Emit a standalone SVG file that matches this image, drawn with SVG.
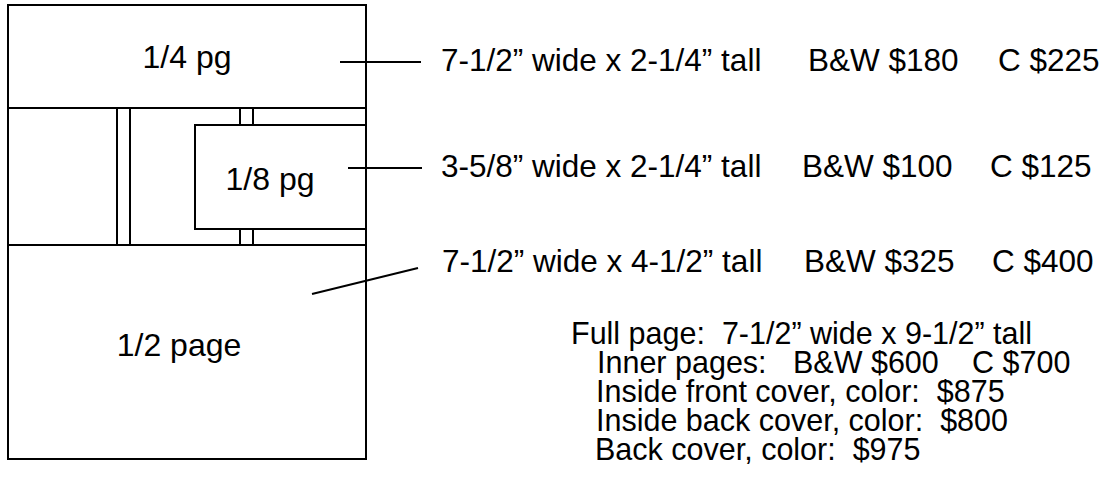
<svg xmlns="http://www.w3.org/2000/svg" width="1104" height="488" viewBox="0 0 1104 488">
<style>
.box{fill:#fff;stroke:#000;stroke-width:2}
.ln{stroke:#000;stroke-width:2;fill:none}
text{font-family:"Liberation Sans",Arial,sans-serif;fill:#000;white-space:pre}
.lab{font-size:32px;text-anchor:middle}
.row{font-size:31.5px}
.blk{font-size:30.5px}
</style>
<rect width="1104" height="488" fill="#fff"/>
<g id="page">
<rect class="box" x="8" y="5" width="358" height="454"/>
<line class="ln" x1="117" y1="108" x2="117" y2="245"/>
<line class="ln" x1="130" y1="108" x2="130" y2="245"/>
<line class="ln" x1="240" y1="108" x2="240" y2="245"/>
<line class="ln" x1="253" y1="108" x2="253" y2="245"/>
</g>
<g id="quarter">
<rect class="box" x="8" y="5" width="358" height="103"/>
<text class="lab" x="187" y="68">1/4 pg</text>
</g>
<g id="eighth">
<rect class="box" x="195" y="125" width="171" height="104"/>
<text class="lab" x="270" y="190">1/8 pg</text>
</g>
<g id="half">
<rect class="box" x="8" y="245" width="358" height="214"/>
<text class="lab" x="179" y="356">1/2 page</text>
</g>
<g id="connectors">
<line class="ln" x1="340" y1="62" x2="421" y2="62"/>
<line class="ln" x1="348" y1="168" x2="422" y2="168"/>
<line class="ln" x1="312" y1="294" x2="418" y2="268"/>
</g>
<g id="label-quarter" class="row">
<text class="row" x="441" y="71">7-1/2” wide x 2-1/4” tall</text>
<text class="row" x="808" y="71">B&amp;W $180</text>
<text class="row" x="998" y="71">C $225</text>
</g>
<g id="label-eighth">
<text class="row" x="441" y="177">3-5/8” wide x 2-1/4” tall</text>
<text class="row" x="802" y="177">B&amp;W $100</text>
<text class="row" x="990" y="177">C $125</text>
</g>
<g id="label-half">
<text class="row" x="442" y="272">7-1/2” wide x 4-1/2” tall</text>
<text class="row" x="804" y="272">B&amp;W $325</text>
<text class="row" x="992" y="272">C $400</text>
</g>
<g id="full-page">
<text class="blk" x="571" y="344">Full page:  7-1/2” wide x 9-1/2” tall</text>
<text class="blk" x="597" y="373">Inner pages:</text>
<text class="blk" x="793" y="373">B&amp;W $600</text>
<text class="blk" x="972" y="373">C $700</text>
<text class="blk" x="596" y="402">Inside front cover, color:  $875</text>
<text class="blk" x="596" y="431">Inside back cover, color:  $800</text>
<text class="blk" x="595" y="460">Back cover, color:  $975</text>
</g>
</svg>
